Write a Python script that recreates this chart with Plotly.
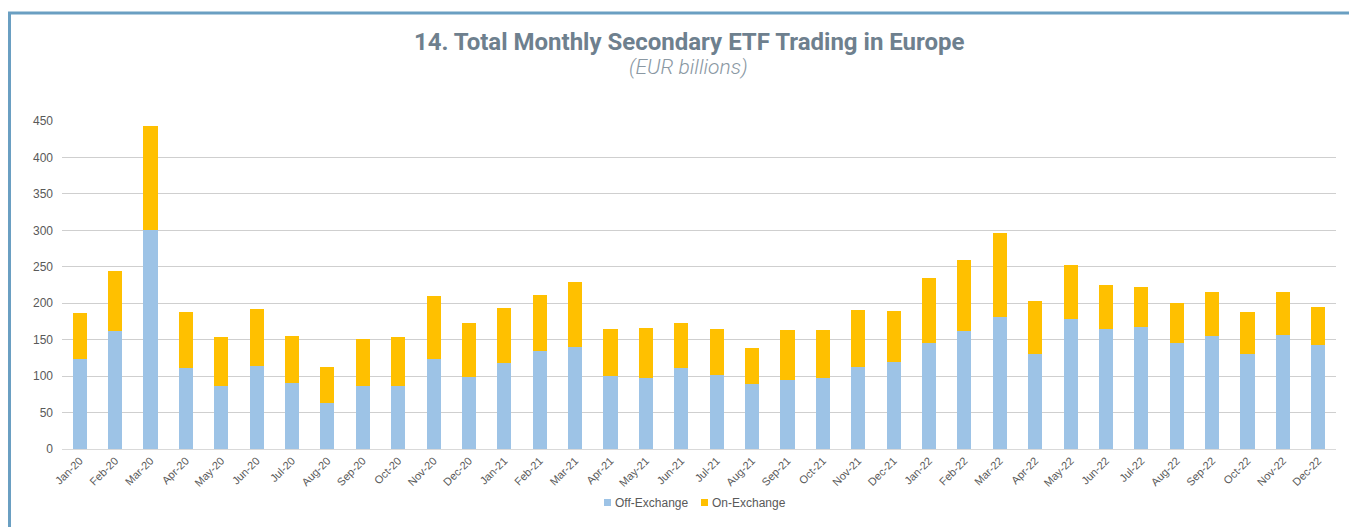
import plotly.graph_objects as go

months = ["Jan-20","Feb-20","Mar-20","Apr-20","May-20","Jun-20","Jul-20","Aug-20","Sep-20","Oct-20","Nov-20","Dec-20",
          "Jan-21","Feb-21","Mar-21","Apr-21","May-21","Jun-21","Jul-21","Aug-21","Sep-21","Oct-21","Nov-21","Dec-21",
          "Jan-22","Feb-22","Mar-22","Apr-22","May-22","Jun-22","Jul-22","Aug-22","Sep-22","Oct-22","Nov-22","Dec-22"]

off_exchange = [124, 162, 300, 111, 86, 114, 90, 63, 87, 86, 123, 99,
                118, 134, 140, 100, 98, 111, 101, 89, 95, 97, 113, 120,
                146, 162, 181, 131, 178, 164, 167, 145, 155, 130, 156, 143]

on_exchange = [63, 82, 143, 77, 67, 78, 65, 50, 64, 67, 87, 74,
               75, 77, 89, 65, 68, 62, 64, 50, 68, 66, 78, 69,
               89, 97, 115, 72, 74, 61, 55, 55, 61, 58, 60, 52]

y_ticks = [0, 50, 100, 150, 200, 250, 300, 350, 400, 450]

series_names = ["Off-Exchange", "On-Exchange"]
series_colors = ["#9dc3e6", "#ffc000"]

# page body has an 8px margin; screen-space plot area is x 62..1336, y 121..449
OFF = 8
PL, PR, PT, PB = 62, 1336, 121, 449
W, H = 1357 - OFF, 527 - OFF


def px(sx):
    return (sx - PL) / (PR - PL)


def py(sy):
    return (PB - sy) / (PB - PT)


fig = go.Figure()
for vals, name, col in zip([off_exchange, on_exchange], series_names, series_colors):
    fig.add_trace(go.Bar(x=months, y=vals, name=name,
                         marker=dict(color=col, line=dict(width=0))))

fig.update_layout(
    barmode="stack",
    bargap=0.6,
    width=W, height=H,
    margin=dict(l=PL - OFF, r=W - (PR - OFF), t=PT - OFF, b=H - (PB - OFF), pad=0),
    paper_bgcolor="white", plot_bgcolor="white",
    font=dict(family="Liberation Sans, Arial, sans-serif", color="#595959", size=11),
    showlegend=False,
    xaxis=dict(type="category", tickangle=-45, tickfont=dict(size=11, color="#595959"),
               showline=True, linecolor="#d9d9d9", linewidth=1, showgrid=False, ticks=""),
    yaxis=dict(range=[0, 450], tickvals=y_ticks, showgrid=True, gridcolor="#cfcfcf", gridwidth=1,
               zeroline=False, tickfont=dict(size=12, color="#595959"), ticklabelstandoff=8),
)

fig.add_annotation(text="<b>14. Total Monthly Secondary ETF Trading in Europe</b>",
                   xref="paper", yref="paper", x=px(689), y=py(42),
                   xanchor="center", yanchor="middle", showarrow=False,
                   font=dict(family="Roboto, sans-serif", size=24, color="#6e808e"))
fig.add_annotation(text="<i>(EUR billions)</i>",
                   xref="paper", yref="paper", x=px(688), y=py(67),
                   xanchor="center", yanchor="middle", showarrow=False,
                   font=dict(family="Roboto, sans-serif", size=21, color="#8a98a3", weight=300))

# manual legend (compact like the original)
leg_sq = [604, 701]
for sx, name, col in zip(leg_sq, series_names, series_colors):
    fig.add_shape(type="rect", xref="paper", yref="paper",
                  x0=px(sx), x1=px(sx + 7), y0=py(506), y1=py(499),
                  fillcolor=col, line=dict(width=0))
    fig.add_annotation(text=name, xref="paper", yref="paper", x=px(sx + 9), y=py(502.5),
                       xanchor="left", yanchor="middle", showarrow=False,
                       font=dict(size=12, color="#595959"))

# frame lines
fig.add_shape(type="line", xref="paper", yref="paper",
              x0=px(8), x1=px(1360), y0=py(13), y1=py(13),
              line=dict(color="#6a9fc2", width=3))
fig.add_shape(type="line", xref="paper", yref="paper",
              x0=px(9.5), x1=px(9.5), y0=py(12), y1=py(530),
              line=dict(color="#6a9fc2", width=3))

fig.write_html("out.html")
